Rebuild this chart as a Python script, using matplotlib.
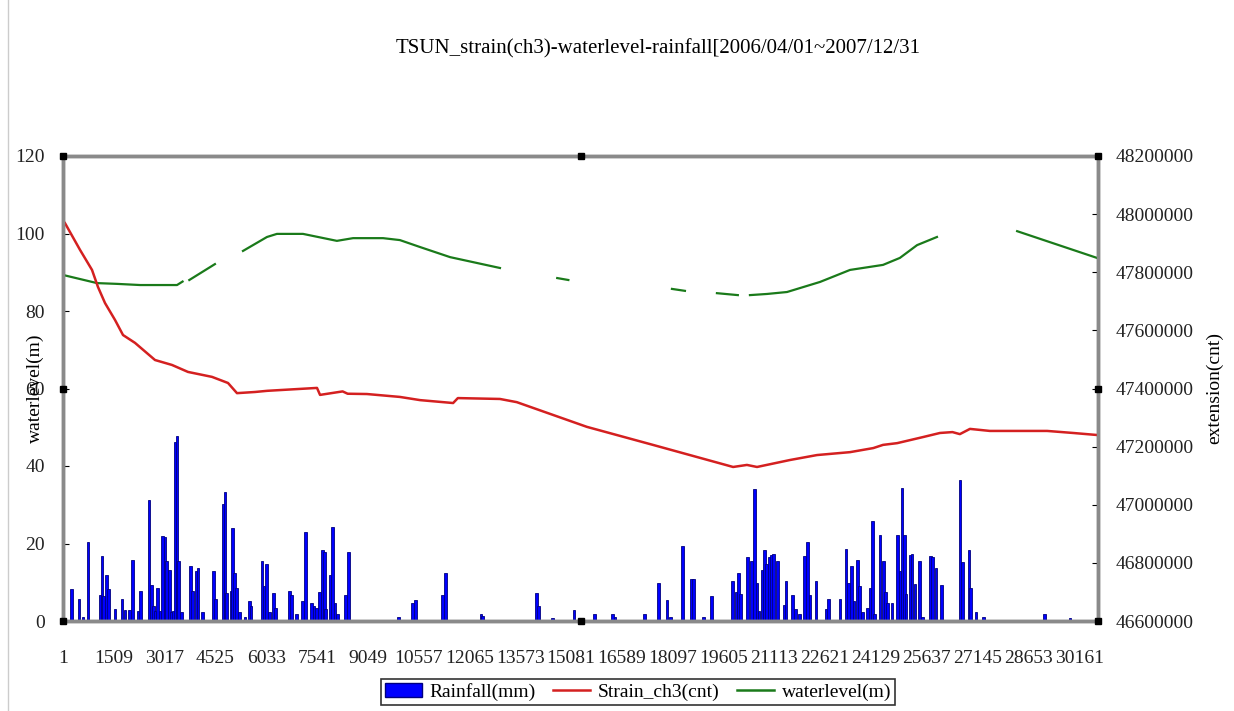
import numpy as np
import matplotlib.pyplot as plt
import matplotlib.ticker as mticker
from matplotlib.patches import Patch
from matplotlib.lines import Line2D

plt.rcParams["font.family"] = ["Liberation Serif", "DejaVu Serif"]

TITLE = "TSUN_strain(ch3)-waterlevel-rainfall[2006/04/01~2007/12/31"
N_RECORDS = 30720   # half-hourly records, 2006/04/01 .. 2007/12/31
TICK_STEP = 1508

# daily rainfall (mm), placed at the record index of the day
rain_idx = [259, 476, 595, 743, 1120, 1158, 1197, 1286, 1345, 1544, 1752, 1841,
            1969, 2058, 2236, 2295, 2553, 2634, 2681, 2732, 2812, 2880, 2948,
            3028, 3079, 3156, 3227, 3275, 3325, 3385, 3423, 3524, 3791, 3851,
            3949, 4008, 4148, 4474, 4521, 4750, 4809, 4860, 4987, 5026, 5097,
            5156, 5234, 5403, 5531, 5581, 5908, 5967, 6047, 6124, 6255, 6302,
            6718, 6777, 6937, 7103, 7192, 7371, 7451, 7531, 7608, 7697, 7756,
            7798, 7926, 8006, 8074, 8154, 8391, 8469, 9953, 10380, 10457,
            11270, 11359, 12408, 12458, 14061, 14120, 14536, 15168, 15771,
            16316, 16385, 17254, 17682, 17928, 18038, 18394, 18661, 18709,
            19005, 19255, 19878, 19976, 20056, 20116, 20312, 20442, 20525,
            20600, 20658, 20747, 20816, 20887, 20964, 21023, 21082, 21201,
            21400, 21460, 21658, 21736, 21854, 22015, 22104, 22172, 22350,
            22647, 22727, 23063, 23241, 23309, 23410, 23478, 23576, 23635,
            23736, 23884, 23953, 24021, 24081, 24250, 24348, 24407, 24479,
            24606, 24776, 24844, 24903, 24971, 25022, 25140, 25200, 25287,
            25415, 25516, 25754, 25813, 25911, 26068, 26623, 26691, 26890,
            26941, 27098, 27315, 29126, 29889]
rain_mm = [8.2, 5.8, 1.0, 20.3, 6.6, 16.8, 6.5, 11.9, 8.2, 3.0, 5.6, 2.8,
           2.8, 15.8, 2.6, 7.8, 31.2, 9.3, 3.9, 2.6, 8.6, 2.6, 22.0,
           21.6, 15.5, 13.2, 2.2, 2.6, 46.1, 47.8, 15.5, 2.2, 14.2, 7.8,
           12.9, 13.8, 2.2, 12.9, 5.6, 30.2, 33.2, 7.3, 7.8, 24.0, 12.5,
           8.6, 2.2, 1.0, 5.2, 3.9, 15.5, 9.1, 14.7, 2.2, 7.3, 3.4,
           7.8, 6.7, 1.9, 5.2, 23.0, 4.7, 3.9, 3.4, 7.6, 18.4, 17.7,
           3.0, 11.9, 24.3, 4.7, 1.9, 6.7, 17.8, 1.0, 4.7, 5.3,
           6.7, 12.3, 1.7, 1.3, 7.3, 3.9, 0.9, 2.8, 1.9,
           1.9, 1.0, 1.9, 9.9, 5.3, 1.0, 19.4, 10.9, 10.9,
           1.0, 6.5, 10.3, 7.6, 12.3, 6.9, 16.6, 15.4, 34.1,
           9.9, 2.6, 13.2, 18.4, 14.7, 16.4, 17.1, 17.2, 15.5,
           4.1, 10.2, 6.7, 3.0, 1.9, 16.8, 20.3, 6.7, 10.2,
           3.0, 5.6, 5.6, 18.7, 9.9, 14.1, 5.2, 15.8, 9.1,
           2.2, 3.4, 8.6, 25.9, 1.7, 22.2, 15.5, 7.6, 4.7,
           4.7, 22.2, 12.9, 34.2, 22.2, 6.9, 17.1, 17.4, 9.5,
           15.5, 1.0, 16.8, 16.4, 13.8, 9.3, 36.5, 15.1, 18.4,
           8.6, 2.2, 1.0, 1.9, 0.7]

# strain ch3 (cnt)
strain_idx = [60, 506, 862, 1040, 1248, 1544, 1782, 2138, 2732, 3236, 3711,
              4423, 4898, 5165, 5700, 6060, 7540, 7630, 8300, 8450, 9020,
              10000, 10600, 11580, 11720, 12970, 13470, 15550, 17510, 19890,
              20300, 20600, 21580, 22380, 23360, 24050, 24340, 24760, 25530,
              26030, 26400, 26620, 26920, 27510, 29210, 29980, 30690]
strain_cnt = [47969000, 47877000, 47808000, 47749000, 47694000, 47636000,
              47584000, 47557000, 47498000, 47481000, 47457000, 47440000,
              47419000, 47384000, 47388000, 47392000, 47402000, 47378000,
              47390000, 47382000, 47381000, 47371000, 47360000, 47350000,
              47367000, 47364000, 47353000, 47268000, 47206000, 47130000,
              47137000, 47130000, 47154000, 47171000, 47181000, 47195000,
              47206000, 47212000, 47233000, 47247000, 47250000, 47243000,
              47261000, 47254000, 47254000, 47247000, 47240000]

# water level (m); nan = missing records
level_idx = [1, 1010, 1604, 2290, 3385, 3550, 3620, 3750, 4510, 4900,
             5343, 6055, 6350, 7124, 8130, 8610, 9500, 10000, 10600, 11490,
             12970, 13800, 14670, 15000, 16500, 18075, 18460, 18900,
             19410, 20030, 20200, 20390, 20900, 21490, 22470, 23360, 24340,
             24840, 25350, 25940, 27000, 28320, 30690]
level_m = [89.3, 87.2, 87.0, 86.7, 86.7, 87.6, np.nan, 88.0, 92.1, np.nan,
           95.5, 99.1, 99.9, 99.9, 98.1, 98.8, 98.8, 98.3, 96.5, 93.9,
           91.1, np.nan, 88.5, 88.0, np.nan, 85.7, 85.2, np.nan,
           84.6, 84.1, np.nan, 84.1, 84.4, 84.9, 87.5, 90.6, 91.9,
           93.7, 97.0, 99.1, np.nan, 100.6, 93.7]

W, H = 1234, 711
fig = plt.figure(figsize=(W / 100, H / 100), dpi=100)
ax = fig.add_axes([63 / W, 1 - 621 / H, 1035 / W, 465 / H])
ax2 = ax.twinx()

ax.bar(rain_idx, rain_mm, width=80, color="#0000ff", edgecolor="#000080",
       linewidth=0.6, zorder=2)
ax.axhline(0, color="black", lw=2, zorder=3)
ax.plot(level_idx, level_m, color="#1a7a1a", lw=1.6, zorder=4)
ax2.plot(strain_idx, strain_cnt, color="#d42020", lw=1.8)

ax.set_xlim(1, N_RECORDS)
ax.set_ylim(0, 120)
ax2.set_ylim(46600000, 48200000)

ax.set_xticks(np.arange(1, N_RECORDS, TICK_STEP))
ax.set_yticks(np.arange(0, 121, 20))
ax2.set_yticks(np.arange(46600000, 48200001, 200000))
ax2.yaxis.set_major_formatter(mticker.FuncFormatter(lambda v, p: f"{v:.0f}"))
ax.tick_params(axis="x", length=0, pad=21, labelsize=14, labelcolor="#222222")
ax.tick_params(axis="y", direction="in", length=4, pad=13, labelsize=14,
               labelcolor="#222222")
ax2.tick_params(axis="y", direction="in", length=4, pad=13, labelsize=14,
                labelcolor="#222222")

ax.set_ylabel("waterlevel(m)", fontsize=14)
ax.yaxis.set_label_coords(-0.018, 0.5)
ax2.set_ylabel("extension(cnt)", fontsize=14, rotation=90)
ax2.yaxis.set_label_coords(1.104, 0.5)

# dotted selection frame with handles
for a in (ax, ax2):
    for sp in a.spines.values():
        sp.set_linestyle((0, (1, 1)))
        sp.set_linewidth(2.5)
        sp.set_color("#8a8a8a")
hx = [0, 0.5, 1, 0, 1, 0, 0.5, 1]
hy = [1, 1, 1, 0.5, 0.5, 0, 0, 0]
ax2.plot(hx, hy, ls="none", marker="s", ms=5, color="black",
         transform=ax2.transAxes, clip_on=False, zorder=10)

fig.text(658 / W, 1 - 49 / H, TITLE, ha="center", va="center", fontsize=15)

handles = [Patch(facecolor="#0000ff", edgecolor="#000080"),
           Line2D([], [], color="#d42020", lw=1.8),
           Line2D([], [], color="#1a7a1a", lw=1.8)]
labels = ["Rainfall(mm)", "Strain_ch3(cnt)", "waterlevel(m)"]
leg = fig.legend(handles, labels, loc="center", ncol=3,
                 bbox_to_anchor=(638 / W, 1 - 692 / H), fontsize=14,
                 frameon=True, fancybox=False, edgecolor="black",
                 handlelength=1.9, handletextpad=0.4, columnspacing=0.9,
                 borderpad=0.2, borderaxespad=0)
leg.get_frame().set_linewidth(1.2)

fig.add_artist(Line2D([8 / W, 8 / W], [0, 1], color="#cccccc", lw=1))

fig.savefig("out.png", dpi=100)
